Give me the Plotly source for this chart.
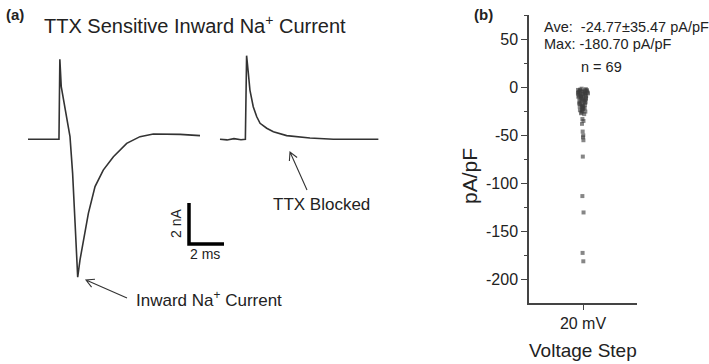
import math
import plotly.graph_objects as go

# ---------------- data ----------------
# Panel (a): whole-cell current traces (time in ms, current in nA)
ctrl_t = [0.0, 1.77, 1.82, 1.90, 2.40, 2.55, 2.69, 2.78, 2.84, 2.97, 3.16, 3.45, 3.83,
          4.30, 4.88, 5.64, 6.40, 7.16, 8.69, 9.83]
ctrl_i = [0.0, 0.0, 3.90, 2.57, 0.13, -1.66, -4.08, -5.73, -6.73, -5.89, -4.91, -3.61, -2.31,
          -1.50, -0.85, -0.20, 0.13, 0.26, 0.24, 0.18]
ttx_t = [0.0, 0.40, 0.80, 1.20, 1.45, 1.52, 1.62, 1.71, 1.90, 2.10, 2.29, 2.67, 3.05, 3.81,
         5.14, 6.48, 9.05]
ttx_i = [0.0, -0.03, 0.03, -0.02, 0.0, 4.08, 3.22, 2.40, 1.59, 1.10, 0.78, 0.54, 0.37, 0.18,
         0.06, 0.0, 0.0]
scale_ms = 2
scale_na = 2

# Panel (b): current density at 20 mV step (pA/pF), n = 69
category = "20 mV"
density = [-180.7, -172.0, -130.0, -113.0, -72.0, -55.0, -52.0, -50.0, -46.0, -38.0, -35.0, -33.0,
           -1.5, -2.0, -2.5, -3.0, -3.2, -3.8, -4.1, -4.5, -5.0, -5.2, -5.6, -6.0, -6.3, -6.8,
           -7.1, -7.5, -8.0, -8.4, -8.9, -9.3, -9.8, -10.2, -10.7, -11.1, -11.6, -12.0, -12.5,
           -13.0, -13.4, -14.0, -14.5, -15.1, -15.6, -16.2, -16.8, -17.3, -17.9, -18.4, -19.0,
           -19.6, -20.1, -20.7, -21.3, -21.9, -22.6, -23.2, -23.9, -24.6, -25.3, -26.1, -27.0,
           -27.9, -2.8, -4.8, -6.6, -9.0, -3.5]
y_ticks = [50, 0, -50, -100, -150, -200]
y_tick_text = ["50", "0", "-50", "-100", "-150", "-200"]

# ---------------- layout helpers ----------------
W, H = 709, 364
FONT = "Liberation Sans, Arial, sans-serif"
TXT = "#222222"


def px(x):
    return x / W


def py(y):
    return 1 - y / H


# panel (a) scale: pixels per unit
X0, PXMS = 28.0, 17.5
Y0, PXNA = 139.3, 20.5
A_W = 430.0
TTX_OFFSET = (220 - 28) / PXMS

fig = go.Figure()

trace_style = dict(color="#333333", width=1.6)
fig.add_trace(go.Scatter(x=ctrl_t, y=ctrl_i, mode="lines", line=trace_style,
                         xaxis="x", yaxis="y", showlegend=False, hoverinfo="skip"))
fig.add_trace(go.Scatter(x=[t + TTX_OFFSET for t in ttx_t], y=ttx_i, mode="lines",
                         line=trace_style, xaxis="x", yaxis="y", showlegend=False,
                         hoverinfo="skip"))

fig.add_trace(go.Box(
    x=[category] * len(density), y=density, boxpoints="all", jitter=0.22, pointpos=0,
    fillcolor="rgba(0,0,0,0)", line=dict(width=0, color="rgba(0,0,0,0)"),
    marker=dict(color="rgba(60,60,60,0.62)", size=4, symbol="square",
                line=dict(width=0)),
    xaxis="x2", yaxis="y2", showlegend=False, hoverinfo="y"))

# scale bar (data coords of panel a)
sb_x = (189 - X0) / PXMS
sb_y = (Y0 - 244) / PXNA
shapes = [dict(type="path", xref="x", yref="y",
               path=f"M {sb_x},{sb_y + scale_na} L {sb_x},{sb_y} L {sb_x + scale_ms},{sb_y}",
               line=dict(color="black", width=3.5))]


def arrow(tail, head, ln=9, ang=28):
    (tx, ty), (hx, hy) = tail, head
    a = math.atan2(ty - hy, tx - hx)
    pts = []
    for s in (-1, 1):
        b = a + s * math.radians(ang)
        pts.append((hx + ln * math.cos(b), hy + ln * math.sin(b)))
    p = (f"M {px(tx)},{py(ty)} L {px(hx)},{py(hy)} "
         f"M {px(pts[0][0])},{py(pts[0][1])} L {px(hx)},{py(hy)} L {px(pts[1][0])},{py(pts[1][1])}")
    return dict(type="path", xref="paper", yref="paper", path=p,
                line=dict(color="#333333", width=1.1))


shapes.append(arrow((127, 298), (86, 280)))
shapes.append(arrow((307, 190), (290, 152)))

ann = []


def text(x, y, s, size, xanchor="center", bold=False, angle=0, color=TXT):
    ann.append(dict(x=px(x), y=py(y), xref="paper", yref="paper", text=s, showarrow=False,
                    xanchor=xanchor, yanchor="middle", textangle=angle,
                    font=dict(family=FONT, size=size, color=color)))


text(4, 15, "<b>(a)</b>", 15, xanchor="left")
text(472, 15, "<b>(b)</b>", 15, xanchor="left")
text(195, 25, "TTX Sensitive Inward Na<sup>+</sup> Current", 20)
text(134, 299, "Inward Na<sup>+</sup> Current", 17, xanchor="left")
text(271, 204, "TTX Blocked", 17, xanchor="left")
text(176, 224, "2 nA", 14, angle=-90)
text(205, 254, "2 ms", 14)
text(542, 27, "Ave:  -24.77±35.47 pA/pF", 14.5, xanchor="left")
text(542, 44, "Max: -180.70 pA/pF", 14.5, xanchor="left")
text(601, 67, f"n = {len(density)}", 14.5)
text(469, 176, "pA/pF", 21, angle=-90)
text(583, 350, "Voltage Step", 19)

fig.update_layout(
    width=W, height=H, margin=dict(l=0, r=0, t=0, b=0),
    paper_bgcolor="white", plot_bgcolor="white",
    xaxis=dict(domain=[0, A_W / W], range=[-X0 / PXMS, (A_W - X0) / PXMS], visible=False),
    yaxis=dict(domain=[0, 1], range=[-(H - Y0) / PXNA, Y0 / PXNA], visible=False),
    xaxis2=dict(domain=[529 / W, 637 / W], anchor="y2", range=[-0.5, 0.5],
                showline=True, linecolor="#444444", linewidth=1.5, ticks="outside",
                ticklen=5, tickwidth=1.3, tickcolor="#444444", showgrid=False, zeroline=False,
                tickfont=dict(family=FONT, size=16, color=TXT)),
    yaxis2=dict(domain=[py(303), py(15)], anchor="x2", range=[-224, 75],
                tickvals=y_ticks, ticktext=y_tick_text, showline=True, linecolor="#444444",
                linewidth=1.5, ticks="outside", ticklen=6, tickwidth=1.3, tickcolor="#444444",
                showgrid=False, zeroline=False,
                minor=dict(dtick=25, ticks="outside", ticklen=3, tickcolor="#444444",
                           tickwidth=1),
                tickfont=dict(family=FONT, size=16, color=TXT)),
    shapes=shapes, annotations=ann,
)

fig.write_html("out.html")
